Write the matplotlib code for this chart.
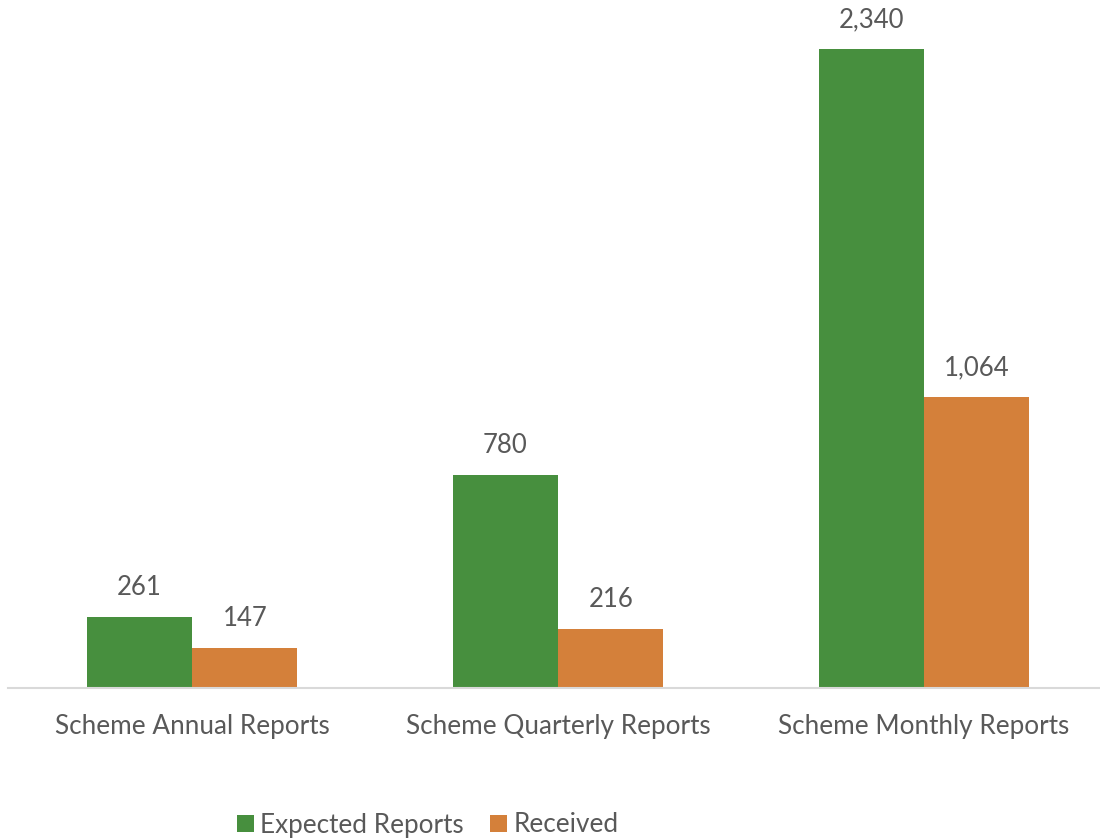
import numpy as np
import matplotlib
matplotlib.use("Agg")
import matplotlib.pyplot as plt

categories = ['Scheme Annual Reports', 'Scheme Quarterly Reports', 'Scheme Monthly Reports']
expected = [261, 780, 2340]
received = [147, 216, 1064]

green = '#478f3e'
orange = '#d4803a'
text_c = '#595959'

plt.rcParams['font.family'] = ['Lato', 'DejaVu Sans']

fig = plt.figure(figsize=(11, 8.39), dpi=100)
ax = fig.add_axes([8/1100, 1 - 688/839, 1092/1100, 683/839])

x = np.arange(len(categories))
w = 0.288
b1 = ax.bar(x - w/2, expected, w, color=green, label='Expected Reports')
b2 = ax.bar(x + w/2, received, w, color=orange, label='Received')

for bars, vals in [(b1, expected), (b2, received)]:
    for rect, v in zip(bars, vals):
        ax.annotate(f'{v:,}', xy=(rect.get_x() + rect.get_width()/2, v),
                    xytext=(0, 12), textcoords='offset points',
                    ha='center', va='bottom', fontsize=18.5, color=text_c)

ax.set_xlim(-0.503, 2.481)
ax.set_ylim(0, 2500)
ax.set_xticks(x)
ax.set_xticklabels(categories, fontsize=18.8, color=text_c)
ax.tick_params(axis='x', length=0, pad=19)
ax.set_yticks([])
for s in ['top', 'right', 'left']:
    ax.spines[s].set_visible(False)
ax.spines['bottom'].set_color('#d9d9d9')
ax.spines['bottom'].set_linewidth(1.5)

leg = fig.legend(loc='center', bbox_to_anchor=(0.389, 1 - 825/839), ncol=2,
                 frameon=False, fontsize=18.8, handlelength=0.65, handleheight=0.65,
                 handletextpad=0.25, columnspacing=1.0)
for t in leg.get_texts():
    t.set_color(text_c)

fig.savefig('out.png', dpi=100)
